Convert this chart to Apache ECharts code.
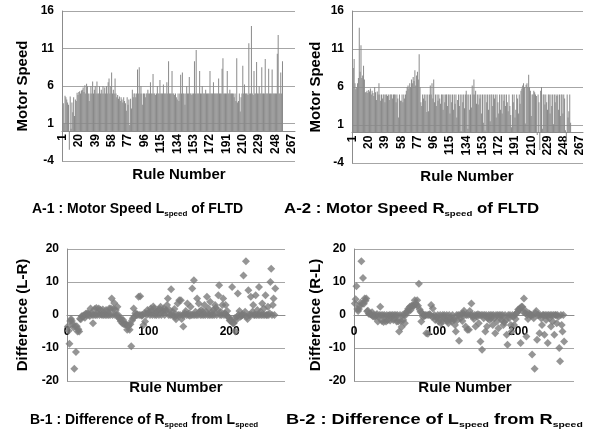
<!DOCTYPE html>
<html><head><meta charset="utf-8">
<script src="https://cdn.jsdelivr.net/npm/echarts@6/dist/echarts.min.js"></script>
<style>html,body{margin:0;padding:0;background:#fff}#c{width:600px;height:443px}</style>
</head><body><div id="c"></div>
<script>
// Rule categories shown on the A charts' axis (1 .. 270)
const categories = [];
for (let i = 1; i <= 270; i++) categories.push(String(i));

// Motor speed L_speed of FLTD, rules 1..256
const lSpeed = [
 3.0,3.7,1.0,4.7,4.5,4.2,3.8,3.5,-2.5,4.6,
 0.3,3.8,2.5,4.5,2.0,4.2,4.0,5.1,4.8,5.2,
 5.3,5.0,5.4,5.5,5.8,5.2,6.1,5.0,6.3,6.0,
 5.0,4.0,5.0,6.0,5.0,6.6,5.0,5.5,6.0,5.0,
 6.6,5.0,5.0,6.0,5.0,5.5,5.0,6.0,5.0,5.8,
 5.0,6.0,5.0,6.5,7.0,5.0,6.0,7.8,5.0,5.5,
 5.0,7.0,5.0,4.5,4.8,4.3,4.6,4.0,4.5,4.2,
 3.8,4.5,4.0,3.7,2.7,4.5,3.5,4.2,0.8,4.3,
 3.0,5.5,4.5,5.0,5.0,4.5,5.0,8.2,5.0,8.5,
 5.0,6.0,5.0,3.5,5.0,5.0,4.5,5.0,5.0,5.5,
 5.0,5.0,6.5,5.0,5.0,7.6,5.0,5.0,4.8,5.0,
 6.0,5.0,5.0,6.8,5.0,5.0,5.0,6.2,5.0,5.0,
 5.0,6.5,5.0,9.3,5.0,5.0,5.0,8.0,5.0,5.0,
 4.8,5.0,4.5,4.2,5.0,4.0,5.0,7.5,5.0,7.8,
 5.0,5.0,3.5,5.0,6.0,5.0,5.0,7.2,5.0,5.0,
 4.8,5.0,5.0,9.3,5.0,10.8,5.0,5.0,5.0,8.0,
 5.0,5.0,6.0,5.0,5.0,5.0,5.5,5.0,5.0,5.0,
 5.0,8.0,5.0,5.0,5.0,6.5,5.0,5.0,5.0,5.0,
 5.0,7.0,5.0,5.0,5.0,8.3,9.7,5.0,5.0,5.0,
 5.0,8.0,5.0,5.0,5.5,5.0,5.0,5.0,5.0,4.5,
 5.0,4.0,9.7,3.8,4.0,5.0,2.6,4.5,5.0,8.7,
 5.0,6.2,5.0,5.0,5.0,4.8,11.7,5.0,5.0,14.0,
 5.0,4.8,8.0,5.0,5.0,9.2,5.0,5.0,6.0,5.0,
 5.0,8.5,5.0,5.0,5.0,9.6,5.0,5.0,5.0,8.3,
 5.0,5.0,5.0,8.2,5.0,5.0,5.0,5.0,5.0,10.3,
 12.8,5.0,5.0,7.8,5.0,9.3
];

// Motor speed R_speed of FLTD, rules 1..256
const rSpeed = [
 6.5,8.5,9.7,6.5,5.7,6.0,6.5,7.2,13.8,8.0,
 11.5,7.2,7.5,8.8,7.0,5.3,5.3,5.5,5.2,5.6,
 5.4,5.8,5.0,5.5,5.2,4.8,6.0,5.3,4.3,5.4,
 5.0,6.5,5.0,4.2,5.0,4.5,5.0,5.0,4.0,5.0,
 5.0,4.8,5.0,4.3,5.0,5.0,5.0,4.5,5.0,5.0,
 5.0,4.0,5.0,4.5,2.0,5.0,4.2,4.2,5.0,4.0,
 5.0,4.5,5.0,5.5,6.0,6.2,5.8,6.5,6.0,7.0,
 6.5,7.3,6.8,8.2,6.2,7.5,8.0,7.0,10.3,6.0,
 4.0,3.5,5.0,4.5,5.0,4.2,5.0,2.7,5.0,2.8,
 5.0,6.2,5.0,6.5,4.5,7.0,4.0,5.0,3.5,5.0,
 4.2,5.0,4.5,3.8,5.0,5.0,3.0,5.0,4.0,5.0,
 5.0,3.5,5.0,5.0,2.5,5.0,4.0,5.0,3.0,5.0,
 3.8,5.0,2.0,4.3,5.0,3.5,5.0,0.2,5.0,4.0,
 5.0,3.2,5.0,5.5,5.0,0.5,5.0,3.0,5.0,3.3,
 6.2,5.0,7.0,5.0,5.5,3.8,5.0,3.7,5.0,4.5,
 5.0,2.5,5.0,1.3,5.0,0.3,5.0,4.0,5.0,3.0,
 5.0,1.5,5.0,5.0,3.5,5.0,4.5,5.0,2.0,5.0,
 4.0,2.5,5.0,3.0,5.0,2.5,5.0,4.2,5.0,3.5,
 5.0,4.0,2.8,5.0,3.5,2.3,0.7,5.0,4.0,5.0,
 2.0,3.0,5.0,4.5,2.5,5.0,3.8,5.5,5.8,6.2,
 6.5,6.0,1.2,6.3,6.5,6.0,7.6,6.0,5.5,2.2,
 5.0,5.0,5.5,5.3,5.0,4.8,-0.3,5.0,4.0,-2.3,
 5.5,6.0,0.5,5.0,5.0,3.7,5.0,4.0,3.0,5.0,
 5.0,2.5,5.0,3.5,5.0,1.1,5.0,4.0,5.0,4.8,
 5.0,3.0,5.0,2.2,5.0,5.0,2.5,5.0,4.5,0.3,
 -1.2,5.0,2.0,2.8,5.0,1.3
];

const speedTicks = [-4, 1, 6, 11, 16];
const diffTicks = [-20, -10, 0, 10, 20];
const ruleTicks = [0, 100, 200];

// Differences of the two measured series
const diffLR = lSpeed.map((v, i) => [i + 1, +(v - rSpeed[i]).toFixed(2)]);
const diffRL = rSpeed.map((v, i) => [i + 1, +(v - lSpeed[i]).toFixed(2)]);

const FONT = "'Liberation Sans', Arial, sans-serif";
const lbl = {fontFamily: FONT, fontWeight: 'bold', fontSize: 12, color: '#000'};
const nameStyle = {fontFamily: FONT, fontWeight: 'bold', fontSize: 15, color: '#000'};
const gridLine = {show: true, lineStyle: {color: '#a6a6a6', width: 1}};
const axLine = {show: true, onZero: false, lineStyle: {color: '#8c8c8c', width: 1}};

// grids: [left, top, width, height]
const grids = [[62, 11, 233, 150], [352, 11, 231, 152], [67, 249, 218, 132], [354, 249, 220, 132]];
// offset that moves an x axis from the grid bottom up to the value 0
function zeroOffset(g, min, max) {
  const h = grids[g][3];
  return -h * (0 - min) / (max - min);
}

function catAxis(g) {
  return {type: 'category', gridIndex: g, data: categories, boundaryGap: true,
    offset: zeroOffset(g, speedTicks[0], speedTicks[speedTicks.length - 1]),
    axisLine: axLine, axisTick: {show: false}, splitLine: {show: false},
    axisLabel: Object.assign({rotate: 90, interval: 18, margin: 3}, lbl)};
}
function speedAxis(g, gap) {
  return {type: 'value', gridIndex: g, min: speedTicks[0], max: speedTicks[speedTicks.length - 1],
    interval: speedTicks[1] - speedTicks[0],
    axisLine: {show: true, lineStyle: {color: '#8c8c8c'}}, axisTick: {show: false},
    splitLine: gridLine, axisLabel: Object.assign({margin: 8}, lbl),
    name: 'Motor Speed', nameLocation: 'middle', nameGap: gap, nameRotate: 90, nameTextStyle: nameStyle};
}
function ruleAxis(g) {
  return {type: 'value', gridIndex: g, min: ruleTicks[0], max: 268, interval: ruleTicks[1] - ruleTicks[0],
    offset: zeroOffset(g, diffTicks[0], diffTicks[diffTicks.length - 1]),
    axisLine: axLine, axisTick: {show: false}, splitLine: {show: false},
    axisLabel: Object.assign({margin: 11, showMaxLabel: false}, lbl)};
}
function diffAxis(g, nm, gap) {
  return {type: 'value', gridIndex: g, min: diffTicks[0], max: diffTicks[diffTicks.length - 1],
    interval: diffTicks[1] - diffTicks[0],
    axisLine: {show: true, lineStyle: {color: '#8c8c8c'}}, axisTick: {show: false},
    splitLine: gridLine, axisLabel: Object.assign({margin: 8}, lbl),
    name: nm, nameLocation: 'middle', nameGap: gap, nameRotate: 90, nameTextStyle: nameStyle};
}

const rich = {
  a: {fontFamily: FONT, fontWeight: 'bold', fontSize: 14, color: '#000', fill: '#000', lineHeight: 18},
  s: {fontFamily: FONT, fontWeight: 'bold', fontSize: 8, color: '#000', fill: '#000', lineHeight: 10, verticalAlign: 'bottom', padding: [4, 0, 0, 0]}
};
// caption drawn as text, optionally stretched horizontally to the caption's width in the figure
function caption(x, y, parts, sx) {
  return {type: 'text', x: x, y: y, scaleX: sx, scaleY: 1, silent: true,
    style: {text: parts, rich: rich, fill: '#000', align: 'left', verticalAlign: 'top',
      textAlign: 'left', textVerticalAlign: 'top'}};
}
function axName(x, y) {
  return {type: 'text', x: x, y: y, silent: true,
    style: {text: 'Rule Number', fill: '#000', font: "bold 15px 'Liberation Sans', Arial, sans-serif",
      textAlign: 'center', textVerticalAlign: 'middle', align: 'center', verticalAlign: 'middle'}};
}

const chart = echarts.init(document.getElementById('c'), null, {renderer: 'canvas'});
chart.setOption({
  animation: false,
  backgroundColor: '#fff',
  graphic: [
    axName(179, 175), axName(467, 177), axName(176, 388), axName(465, 388),
    caption(32, 200, '{a|A-1 : Motor Speed L}{s|speed}{a| of FLTD}', 1),
    caption(284, 200, '{a|A-2 : Motor Speed R}{s|speed}{a| of FLTD}', 1.2),
    caption(30, 411, '{a|B-1 : Difference of R}{s|speed}{a| from L}{s|speed}', 1),
    caption(286, 411, '{a|B-2 : Difference of L}{s|speed}{a| from R}{s|speed}', 1.3)
  ],
  grid: grids.map(g => ({left: g[0], top: g[1], width: g[2], height: g[3]})),
  xAxis: [catAxis(0), catAxis(1), ruleAxis(2), ruleAxis(3)],
  yAxis: [speedAxis(0, 32), speedAxis(1, 29), diffAxis(2, 'Difference (L-R)', 37), diffAxis(3, 'Difference (R-L)', 31)],
  series: [
    {type: 'bar', xAxisIndex: 0, yAxisIndex: 0, data: lSpeed, barWidth: '75%', itemStyle: {color: '#8a8a8a'}},
    {type: 'bar', xAxisIndex: 1, yAxisIndex: 1, data: rSpeed, barWidth: '75%', itemStyle: {color: '#8a8a8a'}},
    {type: 'scatter', xAxisIndex: 2, yAxisIndex: 2, data: diffLR, symbol: 'diamond', symbolSize: 8, itemStyle: {color: '#7a7a7a'}},
    {type: 'scatter', xAxisIndex: 3, yAxisIndex: 3, data: diffRL, symbol: 'diamond', symbolSize: 8, itemStyle: {color: '#7a7a7a'}}
  ]
});
</script>
</body></html>
